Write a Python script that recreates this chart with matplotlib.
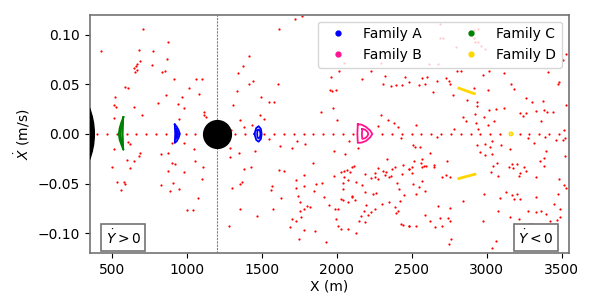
import matplotlib.pyplot as plt
from matplotlib.lines import Line2D
from matplotlib.patches import Ellipse
import numpy as np

# sea points sitting on the xdot = 0 line (m)
row_x = [400, 466, 531, 597, 662, 728, 794, 859, 990, 1056, 1318, 1384,
         1515, 1581, 1646, 1712, 1778, 1843, 1909, 1974, 2040, 2106, 2302,
         2368, 2434, 2499, 2565, 2630, 2696, 2762, 2827, 2893, 2958, 3024,
         3090, 3221, 3286, 3352, 3418, 3483]

# chaotic sea (x in m, xdot in m/s)
sea_pts = [
    (707, 0.106), (424, 0.083), (873, 0.092), (678, 0.084), (773, 0.083),
    (867, 0.075), (689, 0.073), (667, 0.070), (658, 0.068), (647, 0.066),
    (664, 0.064), (653, 0.062), (764, 0.069), (833, 0.062), (853, 0.063),
    (913, 0.055), (1058, 0.055), (1098, 0.055), (584, 0.047), (607, 0.046),
    (1013, 0.046), (858, 0.039), (1078, 0.040), (518, 0.037), (964, 0.037),
    (511, 0.029), (524, 0.027), (649, 0.027), (807, 0.031), (938, 0.030),
    (978, 0.026), (513, 0.016), (698, 0.019), (1111, 0.022), (1116, 0.019),
    (1124, 0.017), (947, 0.015), (1415, 0.078), (1371, 0.068), (1342, 0.061),
    (1413, 0.050), (1333, 0.043), (1304, 0.029), (1351, 0.014), (1382, 0.0065),
    (1293, 0.004),
    (1718, 0.116), (1769, 0.119), (1613, 0.106), (1438, 0.053), (1607, 0.050),
    (1491, 0.037), (1544, 0.032), (1578, 0.032), (1489, 0.019), (1516, 0.015),
    (1433, 0.009), (2013, 0.063), (1960, 0.057), (1955, 0.044), (1967, 0.043),
    (1993, 0.044), (1973, 0.026), (1891, 0.022), (1998, 0.014), (2167, 0.055),
    (2231, 0.063), (2322, 0.058), (2309, 0.050), (2362, 0.048), (2398, 0.049),
    (2438, 0.049), (2453, 0.057), (2482, 0.052), (2296, 0.019), (2340, 0.014),
    (2384, 0.011), (2411, 0.007), (2278, 0.008),
    (2051, 0.071), (2295, 0.071), (2687, 0.111), (2691, 0.097), (2709, 0.097),
    (2915, 0.105), (2944, 0.106), (2913, 0.097), (2920, 0.092), (2944, 0.092),
    (2965, 0.088), (2989, 0.085), (2796, 0.087), (2675, 0.070), (2615, 0.070),
    (2567, 0.056), (2602, 0.057), (2551, 0.049), (2591, 0.050), (2669, 0.053),
    (2729, 0.056), (2747, 0.053), (2753, 0.050), (2644, 0.042), (2778, 0.039),
    (2800, 0.063), (2829, 0.063), (2913, 0.046), (2933, 0.032), (2938, 0.028),
    (2867, 0.034), (2920, 0.020), (2840, 0.017), (2862, 0.013), (2929, 0.011),
    (2944, 0.005), (2784, 0.005), (2984, 0.017), (3013, 0.024), (3009, 0.044),
    (2978, 0.059), (3018, 0.063), (3060, 0.025), (3049, 0.013), (3007, 0.009),
    (3116, 0.026), (3118, 0.061), (3162, 0.050), (3180, 0.045), (3262, 0.036),
    (3300, 0.032), (3375, 0.033), (3222, 0.021), (3240, 0.018), (3260, 0.021),
    (3331, 0.023), (3384, 0.024), (3406, 0.022), (3444, 0.022), (3360, 0.013),
    (3413, 0.062), (3480, 0.052), (3476, 0.050), (3509, 0.074), (2531, 0.009),
    (3518, 0.004), (3531, 0.080), (3531, 0.029),
    (607, -0.0076), (616, -0.010), (513, -0.015), (684, -0.019), (678, -0.022),
    (596, -0.026), (647, -0.027), (500, -0.033), (618, -0.034), (529, -0.048),
    (578, -0.048), (584, -0.050), (562, -0.056), (827, -0.020), (871, -0.019),
    (898, -0.029), (918, -0.030), (871, -0.037), (982, -0.038), (829, -0.051),
    (907, -0.049), (887, -0.057), (949, -0.055), (900, -0.009), (980, -0.009),
    (1044, -0.015), (1053, -0.027), (1107, -0.033), (1100, -0.045),
    (1073, -0.064), (1000, -0.076), (1042, -0.076), (1287, -0.014),
    (1287, -0.023), (1347, -0.019), (1382, -0.035), (1298, -0.054),
    (1355, -0.050), (1364, -0.048), (1353, -0.075), (1278, -0.093),
    (1549, -0.005), (1733, -0.0066), (1789, -0.010), (1620, -0.012),
    (1698, -0.014), (1456, -0.017), (2078, -0.0073), (2142, -0.0146),
    (1980, -0.017), (2053, -0.020), (1844, -0.029), (1429, -0.033),
    (1613, -0.036), (1645, -0.037), (1782, -0.041), (1729, -0.046),
    (1569, -0.052), (1560, -0.056), (1729, -0.054), (1780, -0.052),
    (1862, -0.050), (1904, -0.049), (1978, -0.042), (2029, -0.038),
    (2051, -0.037), (2067, -0.036), (2087, -0.038), (2100, -0.033),
    (2113, -0.032), (2049, -0.043), (2073, -0.046), (2038, -0.049),
    (2129, -0.048), (2167, -0.051), (2187, -0.040), (2229, -0.044),
    (2255, -0.043), (2258, -0.039), (2278, -0.045), (2273, -0.034),
    (2309, -0.037), (2324, -0.041), (2329, -0.038), (2349, -0.043),
    (2360, -0.042), (2367, -0.035), (2387, -0.033), (2440, -0.031),
    (2480, -0.035), (2433, -0.040), (2402, -0.049), (2415, -0.055),
    (2451, -0.061), (2424, -0.067), (2389, -0.073), (2407, -0.078),
    (2395, -0.080), (2349, -0.068), (2304, -0.070), (2264, -0.059),
    (2240, -0.060), (2189, -0.058), (2198, -0.071), (2253, -0.075),
    (2231, -0.079), (2211, -0.082), (2184, -0.077), (2164, -0.083),
    (2147, -0.088), (2187, -0.089), (2336, -0.025), (2429, -0.091),
    (2444, -0.092), (2482, -0.093), (1913, -0.063), (1849, -0.057),
    (2100, -0.063), (2118, -0.066), (2073, -0.068), (2029, -0.065),
    (2040, -0.066), (2102, -0.062), (2040, -0.055), (1947, -0.071),
    (1991, -0.075), (2011, -0.075), (1993, -0.086), (2007, -0.093),
    (2029, -0.096), (2075, -0.096), (2127, -0.100), (1820, -0.073),
    (1802, -0.072), (1778, -0.075), (1756, -0.068), (1753, -0.078),
    (1738, -0.062), (1624, -0.064), (1575, -0.075), (1702, -0.086),
    (1727, -0.088), (1764, -0.084), (1684, -0.094), (1782, -0.097),
    (1851, -0.098), (1747, -0.106), (1927, -0.109), (1464, -0.083),
    (2429, -0.004),
    (2671, -0.0033), (2511, -0.011), (2524, -0.013), (2558, -0.013),
    (2624, -0.019), (2518, -0.027), (2569, -0.025), (2562, -0.029),
    (2580, -0.032), (2596, -0.032), (2651, -0.031), (2647, -0.033),
    (2567, -0.033), (2500, -0.033), (2484, -0.035), (2504, -0.039),
    (2738, -0.027), (2702, -0.043), (2731, -0.041), (2755, -0.043),
    (2567, -0.047), (2509, -0.050), (2547, -0.053), (2587, -0.057),
    (2529, -0.060), (2842, -0.067), (2678, -0.072), (2758, -0.074),
    (2587, -0.082), (2689, -0.085), (2744, -0.085), (2753, -0.088),
    (2624, -0.088), (2529, -0.093), (2484, -0.093), (2653, -0.094),
    (2704, -0.093), (2764, -0.106), (2749, -0.111), (2933, -0.011),
    (2991, -0.010), (3022, -0.013), (3038, -0.007), (3098, -0.011),
    (3156, -0.015), (2953, -0.018), (2987, -0.021), (3033, -0.020),
    (3067, -0.029), (3042, -0.032), (3029, -0.038), (3078, -0.042),
    (2984, -0.060), (3087, -0.064), (3127, -0.058), (3169, -0.061),
    (3200, -0.060), (3180, -0.065), (3222, -0.065), (3149, -0.033),
    (3169, -0.030), (3200, -0.030), (3175, -0.034), (3247, -0.033),
    (3262, -0.037), (3224, -0.039), (3213, -0.042), (3331, -0.043),
    (3384, -0.032), (3384, -0.024), (3358, -0.027), (3395, -0.017),
    (3318, -0.0086), (3278, -0.0043), (3393, -0.0033), (3460, -0.006),
    (3509, -0.006), (3520, -0.0043), (3522, -0.022), (3484, -0.045),
    (3518, -0.051), (3527, -0.054), (3478, -0.060), (3329, -0.063),
    (3451, -0.070), (3491, -0.075), (3493, -0.084), (3473, -0.087),
    (3420, -0.088), (3398, -0.081), (3360, -0.077), (3333, -0.079),
    (3278, -0.078), (3073, -0.077), (2978, -0.088), (3153, -0.084),
    (3218, -0.086), (3282, -0.091), (3302, -0.091), (3202, -0.096),
    (3064, -0.108), (3033, -0.115),
]

# Family A (two islands, outer and inner loop each)
famA1_out_x = [918, 930, 943, 952, 943, 930, 918, 921, 918]
famA1_out_y = [0.0095, 0.0075, 0.004, 0.0, -0.004, -0.0075, -0.009, 0.0, 0.0095]
famA1_in_x = [926, 935, 941, 935, 926, 928, 926]
famA1_in_y = [0.005, 0.003, 0.0, -0.003, -0.005, 0.0, 0.005]
famA2_out_x = [1450, 1462, 1478, 1493, 1498, 1493, 1478, 1462, 1450]
famA2_out_y = [0.0, 0.006, 0.0078, 0.005, 0.0, -0.005, -0.0078, -0.006, 0.0]
famA2_in_x = [1470, 1478, 1487, 1490, 1487, 1478, 1470, 1468, 1470]
famA2_in_y = [0.0035, 0.0045, 0.003, 0.0, -0.003, -0.0045, -0.0035, 0.0, 0.0035]

# Family B
famB_out_x = [2140, 2165, 2195, 2222, 2237, 2222, 2195, 2165, 2140, 2137, 2140]
famB_out_y = [0.0097, 0.0094, 0.007, 0.0035, 0.0, -0.0035, -0.007, -0.0087,
              -0.009, 0.0, 0.0097]
famB_in_x = [2170, 2190, 2205, 2210, 2205, 2190, 2170, 2167, 2170]
famB_in_y = [0.005, 0.0042, 0.002, 0.0, -0.002, -0.0042, -0.005, 0.0, 0.005]

# Family C
famC_out_x = [575, 562, 550, 544, 550, 562, 575, 570, 568, 570, 575]
famC_out_y = [0.017, 0.012, 0.006, 0.0, -0.006, -0.011, -0.016, -0.008, 0.0,
              0.008, 0.017]
famC_in_x = [572, 560, 553, 560, 572, 569, 572]
famC_in_y = [0.012, 0.007, 0.0, -0.007, -0.012, 0.0, 0.012]

# Family D
famD_up_x = [2815, 2918]
famD_up_y = [0.046, 0.0405]
famD_lo_x = [2815, 2922]
famD_lo_y = [-0.0448, -0.0405]
famD_ring_x = [3173, 3170, 3162, 3154, 3151, 3154, 3162, 3170, 3173]
famD_ring_y = [0.0, 0.0012, 0.0017, 0.0012, 0.0, -0.0012, -0.0017, -0.0012, 0.0]

# bodies: primary (only its edge shows) and secondary
primary_x, primary_w, primary_h = -100, 962, 0.145
secondary_x = 1202

fam_names = ["Family A", "Family B", "Family C", "Family D"]
fam_colors = ["blue", "deeppink", "green", "gold"]


def main():
    fig = plt.figure(figsize=(5.98, 2.99), dpi=100)
    ax = fig.add_axes([0.150, 0.153, 0.8015, 0.798])

    sea = np.array(sea_pts)
    ax.plot(sea[:, 0], sea[:, 1], "o", color="red", ms=1.6, mew=0, zorder=2)
    ax.plot(row_x, np.zeros(len(row_x)), "o", color="red", ms=1.6, mew=0,
            zorder=2)

    ax.axvline(secondary_x, color="gray", ls=(0, (2, 1)), lw=0.8, zorder=1)
    ax.add_patch(Ellipse((primary_x, 0), primary_w, primary_h,
                         color="black", zorder=3))
    ax.plot([secondary_x], [0], "o", color="black", ms=20, zorder=3)

    cA, cB, cC, cD = fam_colors
    lw = 1.3
    ax.plot(famA1_out_x, famA1_out_y, color=cA, lw=lw, zorder=4)
    ax.plot(famA1_in_x, famA1_in_y, color=cA, lw=lw, zorder=4)
    ax.plot(famA2_out_x, famA2_out_y, color=cA, lw=lw, zorder=4)
    ax.plot(famA2_in_x, famA2_in_y, color=cA, lw=lw, zorder=4)
    ax.plot(famB_out_x, famB_out_y, color=cB, lw=lw, zorder=4)
    ax.plot(famB_in_x, famB_in_y, color=cB, lw=lw, zorder=4)
    ax.plot(famC_out_x, famC_out_y, color=cC, lw=lw, zorder=4)
    ax.plot(famC_in_x, famC_in_y, color=cC, lw=lw, zorder=4)
    ax.plot(famD_up_x, famD_up_y, color=cD, lw=2, zorder=4)
    ax.plot(famD_lo_x, famD_lo_y, color=cD, lw=2, zorder=4)
    ax.plot(famD_ring_x, famD_ring_y, color=cD, lw=1.2, zorder=4)

    ax.set_xlim(350, 3550)
    ax.set_ylim(-0.12, 0.12)
    ax.set_xticks([500, 1000, 1500, 2000, 2500, 3000, 3500])
    ax.set_yticks([-0.10, -0.05, 0.00, 0.05, 0.10])
    ax.set_xlabel("X (m)", labelpad=2)
    ax.set_ylabel(r"$\dot{X}$ (m/s)")
    for s in ax.spines.values():
        s.set_color("0.45")
        s.set_linewidth(1.2)

    handles = [Line2D([], [], ls="", marker=".", color=c, ms=7)
               for c in fam_colors]
    ax.legend(handles, fam_names, loc="upper right", ncol=2,
              columnspacing=2.6)

    box = dict(boxstyle="square,pad=0.3", fc="white", ec="0.45", lw=1.2)
    ax.text(0.033, 0.027, r"$\dot{Y} > 0$", transform=ax.transAxes,
            ha="left", va="bottom", bbox=box, zorder=6)
    ax.text(0.968, 0.027, r"$\dot{Y} < 0$", transform=ax.transAxes,
            ha="right", va="bottom", bbox=box, zorder=6)

    fig.savefig("out.png", dpi=100)


if __name__ == "__main__":
    main()
